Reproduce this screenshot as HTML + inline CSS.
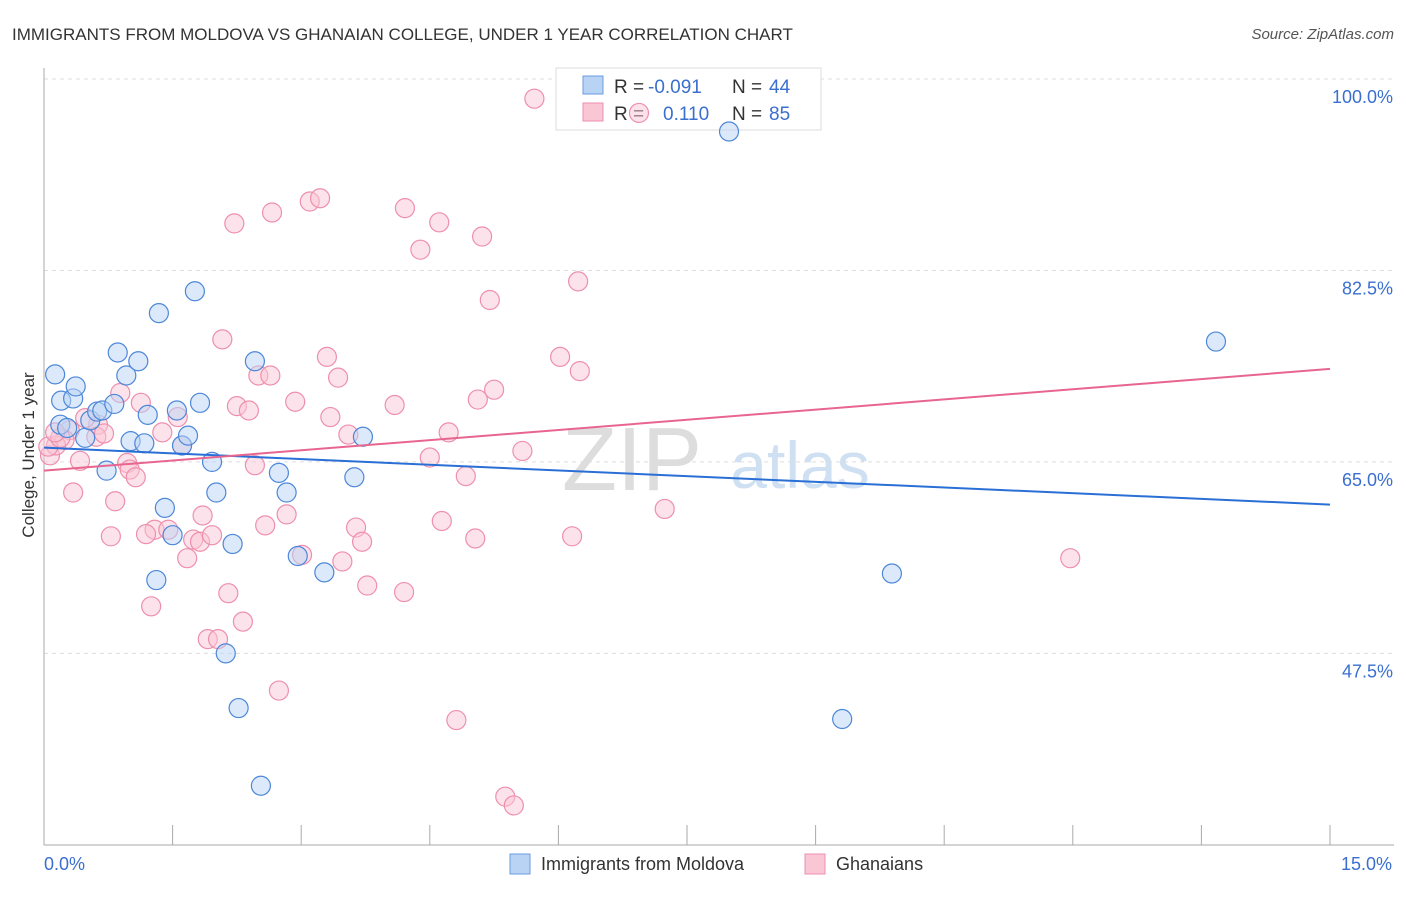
<!DOCTYPE html>
<html><head><meta charset="utf-8"><style>
body{margin:0;background:#fff;font-family:"Liberation Sans",sans-serif}
svg text{font-family:"Liberation Sans",sans-serif}
</style></head><body>
<svg width="1406" height="892" id="chart">
<text x="12" y="40" font-size="17" fill="#333">IMMIGRANTS FROM MOLDOVA VS GHANAIAN COLLEGE, UNDER 1 YEAR CORRELATION CHART</text>
<text x="1394" y="39" font-size="15" fill="#555" font-style="italic" text-anchor="end">Source: ZipAtlas.com</text>
<text x="632" y="490" font-size="90" fill="#ddd" font-family="Liberation Serif" text-anchor="middle">ZIP</text>
<text x="800" y="488" font-size="66" fill="#cfe0f3" text-anchor="middle">atlas</text>
<g id="grid"></g><g id="axes"></g>
<g>
<rect x="556" y="68" width="265" height="62" fill="#fff" stroke="#ddd"/>
<rect x="583" y="76" width="20" height="18" fill="#b9d3f5" stroke="#6a9be0"/>
<rect x="583" y="103" width="20" height="18" fill="#f9c6d5" stroke="#ee8fae"/>
<text x="614" y="93" font-size="19" fill="#333">R =</text>
<text x="648" y="93" font-size="19" fill="#3a6fd0">-0.091</text>
<text x="732" y="93" font-size="19" fill="#333">N =</text>
<text x="769" y="93" font-size="19" fill="#3a6fd0">44</text>
<text x="614" y="120" font-size="19" fill="#333">R =</text>
<text x="663" y="120" font-size="19" fill="#3a6fd0">0.110</text>
<text x="732" y="120" font-size="19" fill="#333">N =</text>
<text x="769" y="120" font-size="19" fill="#3a6fd0">85</text>
</g>
<g id="pts"></g><g id="lines"></g>
<text transform="translate(34,455) rotate(-90)" font-size="17" fill="#333" text-anchor="middle">College, Under 1 year</text>
<g>
<rect x="510" y="854" width="20" height="20" fill="#b9d3f5" stroke="#6a9be0"/>
<text x="541" y="870" font-size="18" fill="#333">Immigrants from Moldova</text>
<rect x="805" y="854" width="20" height="20" fill="#f9c6d5" stroke="#ee8fae"/>
<text x="836" y="870" font-size="18" fill="#333">Ghanaians</text>
</g>
</svg>
<script>
const yTicks=[100,82.5,65,47.5];
const yTickLabels=["100.0%","82.5%","65.0%","47.5%"];
const xEndLabels=["0.0%","15.0%"];
const blueX=[0.13,0.20,0.34,0.37,0.19,0.27,0.48,0.54,0.62,0.68,0.82,0.86,0.96,1.10,1.21,1.01,1.17,0.73,1.34,1.76,1.61,1.55,1.68,1.82,1.96,2.01,1.41,1.31,2.20,2.12,2.27,2.53,2.46,2.74,2.83,2.96,3.27,3.62,3.72,7.99,9.89,9.31,13.67,1.50];
const blueY=[73.0,70.6,70.8,71.9,68.4,68.1,67.2,68.8,69.6,69.7,70.3,75.0,72.9,74.2,69.3,66.9,66.7,64.2,78.6,80.6,66.5,69.7,67.4,70.4,65.0,62.2,60.8,54.2,57.5,47.5,42.5,35.4,74.2,64.0,62.2,56.4,54.9,63.6,67.3,95.2,54.8,41.5,76.0,58.3];
const pinkX=[5.72,6.94,2.22,2.66,3.10,3.22,4.21,4.61,4.39,5.11,5.20,6.23,2.08,3.30,6.02,6.25,2.50,2.64,3.43,5.25,5.06,2.93,4.09,2.25,2.39,3.34,0.89,1.13,1.56,3.55,4.72,1.38,0.63,0.30,0.24,0.61,0.70,1.61,4.50,5.58,0.42,0.97,1.00,1.07,2.46,4.92,0.34,0.83,1.85,2.83,2.58,3.64,4.64,7.24,1.29,1.45,1.19,0.78,1.74,1.82,1.96,3.71,5.03,6.16,1.67,3.01,3.48,3.77,4.20,2.15,1.25,2.32,1.91,2.03,2.74,4.81,11.97,5.38,5.48,0.07,0.14,0.05,0.19,0.48,0.13];
const pinkY=[98.2,96.9,86.8,87.8,88.8,89.1,88.2,86.9,84.4,85.6,79.8,81.5,76.2,74.6,74.6,73.3,72.9,72.9,72.7,71.6,70.7,70.5,70.2,70.1,69.7,69.1,71.3,70.4,69.1,67.5,67.7,67.7,68.4,67.9,67.0,67.3,67.6,66.5,65.4,66.0,65.1,64.9,64.3,63.6,64.7,63.7,62.2,61.4,60.1,60.2,59.2,59.0,59.6,60.7,58.8,58.8,58.4,58.2,57.9,57.7,58.3,57.7,58.0,58.2,56.2,56.5,55.9,53.7,53.1,53.0,51.8,50.4,48.8,48.8,44.1,41.4,56.2,34.4,33.6,65.6,66.5,66.4,67.2,69.0,67.7];
const trendX=[0,15];
const blueTrend=[66.3,61.1];
const pinkTrend=[64.2,73.5];
const NS="http://www.w3.org/2000/svg";
const sx=v=>44+v/15*1286;
const sy=v=>79+(100-v)*10.94;
function mk(tag,attrs,parent){const e=document.createElementNS(NS,tag);for(const k in attrs)e.setAttribute(k,attrs[k]);parent.appendChild(e);return e;}
const grid=document.getElementById('grid'),axes=document.getElementById('axes'),pts=document.getElementById('pts'),lines=document.getElementById('lines');
yTicks.forEach((t,i)=>{
 const l=mk('line',{x1:44,x2:1394,y1:sy(t),y2:sy(t),stroke:'#ddd','stroke-dasharray':'4,4'},grid);
 
 
 const tx=mk('text',{x:1393,y:sy(t)+24,'font-size':18,fill:'#3a6fd0','text-anchor':'end'},grid);
 tx.textContent=yTickLabels[i];
 
 
});
const ya=mk('line',{x1:44,x2:44,y1:68,y2:845,stroke:'#aaa'},axes);


const xa=mk('line',{x1:44,x2:1394,y1:845,y2:845,stroke:'#aaa'},axes);


for(let i=0;i<=10;i++){const t=mk('line',{x1:sx(i*1.5),x2:sx(i*1.5),y1:825,y2:845,stroke:'#aaa'},axes);
 
 }
[[0,'start'],[15,'end']].forEach((p,i)=>{const t=mk('text',{x:sx(p[0])+(i?62:0),y:870,'font-size':18,fill:'#3a6fd0','text-anchor':p[1]},axes);t.textContent=xEndLabels[i];
 
 });
function dots(X,Y,fill,stroke,name){X.forEach((x,i)=>{const c=mk('circle',{cx:sx(x),cy:sy(Y[i]),r:9.5,fill:fill,'fill-opacity':0.5,stroke:stroke,'stroke-width':1.2},pts);
 
 });}
dots(pinkX,pinkY,'#f9c6d5','#ee8fae','ghanaian-point');
dots(blueX,blueY,'#b9d3f5','#4d87d8','moldova-point');
const bl=mk('line',{x1:sx(trendX[0]),x2:sx(trendX[1]),y1:sy(blueTrend[0]),y2:sy(blueTrend[1]),stroke:'#2a6fd6','stroke-width':2},lines);


const pl=mk('line',{x1:sx(trendX[0]),x2:sx(trendX[1]),y1:sy(pinkTrend[0]),y2:sy(pinkTrend[1]),stroke:'#e8658f','stroke-width':2},lines);


</script>
</body></html>
